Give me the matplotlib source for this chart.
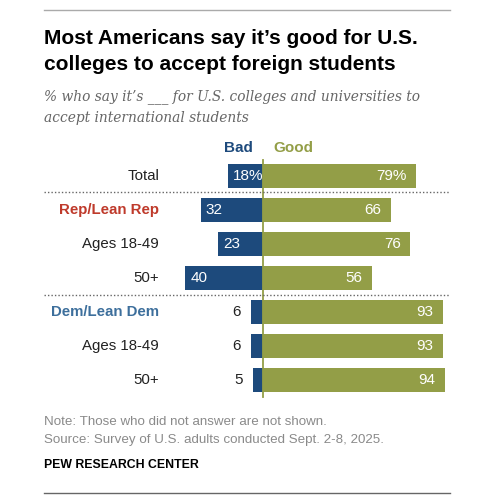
import matplotlib.pyplot as plt
from matplotlib.lines import Line2D

# data
labels = ['Total', 'Rep/Lean Rep', 'Ages 18-49', '50+', 'Dem/Lean Dem', 'Ages 18-49', '50+']
bad = [18, 32, 23, 40, 6, 6, 5]
good = [79, 66, 76, 56, 93, 93, 94]
label_colors = ['#222222', '#bf3a2b', '#222222', '#222222', '#3d6f9c', '#222222', '#222222']
label_bold = [False, True, False, False, True, False, False]

BAD_C = '#1d4a7c'
GOOD_C = '#939e47'
SANS = 'Liberation Sans'

W, H = 492, 500
fig = plt.figure(figsize=(W / 100, H / 100), dpi=100)


def fx(px):
    return px / W


def fy(py):
    return 1 - py / H


# axes placed in pixel space: x 44..450, y 135..400
ax = fig.add_axes([fx(44), fy(400), fx(450) - fx(44), (400 - 135) / H])
scale = 1.94  # px per percentage point
ax.set_xlim((44 - 263) / scale, (450 - 263) / scale)
ax.set_ylim((400 - 176) / 34, (135 - 176) / 34)
ax.axis('off')

ys = list(range(len(labels)))
ax.barh(ys, [-b for b in bad], height=0.7, color=BAD_C)
ax.barh(ys, good, height=0.7, color=GOOD_C)

for i in ys:
    suffix = '%' if i == 0 else ''
    if bad[i] >= 10:
        ax.text(-bad[i] + 2.5, i, f'{bad[i]}{suffix}', ha='left', va='center',
                color='white', fontsize=11, family=SANS)
    else:
        ax.text(-bad[i] - 5.5, i, f'{bad[i]}{suffix}', ha='right', va='center',
                color='#222222', fontsize=11, family=SANS)
    ax.text(good[i] - 5, i, f'{good[i]}{suffix}', ha='right', va='center',
            color='white', fontsize=11, family=SANS)
    ax.text((159 - 263) / scale, i, labels[i], ha='right', va='center',
            color=label_colors[i], fontsize=10.8, family=SANS,
            fontweight='bold' if label_bold[i] else 'normal')

# zero line and separators
ax.plot([0, 0], [(160 - 176) / 34, (397 - 176) / 34], color=GOOD_C, lw=1.3)
for yy in [0.47, 3.5]:
    ax.axhline(yy, color='#666666', lw=1, ls=(0, (1, 1.5)))

ax.text(-5, (148 - 176) / 34, 'Bad', ha='right', va='center', color=BAD_C,
        fontsize=11, fontweight='bold', family=SANS)
ax.text(5.5, (148 - 176) / 34, 'Good', ha='left', va='center', color=GOOD_C,
        fontsize=11, fontweight='bold', family=SANS)

# titles
fig.text(fx(44), fy(38), 'Most Americans say it\u2019s good for U.S.', ha='left', va='center',
         fontsize=15, fontweight='bold', family=SANS, color='#000000')
fig.text(fx(44), fy(65), 'colleges to accept foreign students', ha='left', va='center',
         fontsize=15, fontweight='bold', family=SANS, color='#000000')
fig.text(fx(44), fy(97), '% who say it\u2019s ___ for U.S. colleges and universities to',
         ha='left', va='center', fontsize=9.9, style='italic', family='DejaVu Serif', color='#666666')
fig.text(fx(44), fy(118), 'accept international students',
         ha='left', va='center', fontsize=9.9, style='italic', family='DejaVu Serif', color='#666666')

# footer
fig.text(fx(44), fy(422), 'Note: Those who did not answer are not shown.', ha='left', va='center',
         fontsize=9.6, family=SANS, color='#8a8a8a')
fig.text(fx(44), fy(440), 'Source: Survey of U.S. adults conducted Sept. 2-8, 2025.', ha='left', va='center',
         fontsize=9.6, family=SANS, color='#8a8a8a')
fig.text(fx(44), fy(465), 'PEW RESEARCH CENTER', ha='left', va='center',
         fontsize=8.8, fontweight='bold', family=SANS, color='#000000')

fig.add_artist(Line2D([fx(44), fx(450)], [fy(10), fy(10)], color='#aaaaaa', lw=1))
fig.add_artist(Line2D([fx(44), fx(450)], [fy(493), fy(493)], color='#666666', lw=1))

fig.savefig('out.png', dpi=100, facecolor='white')
